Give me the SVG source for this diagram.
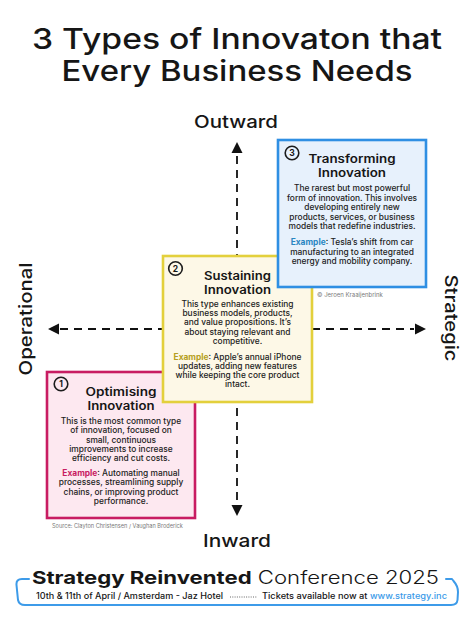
<svg xmlns="http://www.w3.org/2000/svg" width="474" height="620" viewBox="0 0 474 620">
  <style>
    text { font-family: Inter, "Noto Sans", "DejaVu Sans", sans-serif; fill: #161616; }
    .title { font-size: 28.5px; font-weight: 500; text-anchor: middle; }
    .axis-label { font-size: 17.5px; font-weight: 500; text-anchor: middle; }
    .box-title { font-size: 11.2px; font-weight: 600; text-anchor: middle; }
    .body { font-size: 8.4px; font-weight: 500; text-anchor: middle; fill: #222; }
    .num { font-size: 8.5px; font-weight: 700; text-anchor: middle; }
    .num-ring { stroke: #1c1c1c; stroke-width: 1.6; }
    .axis { stroke: #111; stroke-width: 1.8; stroke-dasharray: 8 6; fill: none; }
    .arrow { fill: #111; }
    .credit { font-size: 6px; fill: #7a7a7a; }
  </style>

  <!-- Heading -->
  <text class="title" x="237" y="49" textLength="410" lengthAdjust="spacingAndGlyphs">3 Types of Innovaton that</text>
  <text class="title" x="237" y="80.5" textLength="351" lengthAdjust="spacingAndGlyphs">Every Business Needs</text>

  <!-- Axis labels -->
  <text class="axis-label" x="236" y="128" textLength="84" lengthAdjust="spacingAndGlyphs">Outward</text>
  <text class="axis-label" x="237" y="547" textLength="68" lengthAdjust="spacingAndGlyphs">Inward</text>
  <text class="axis-label" transform="translate(32 319) rotate(-90)" textLength="113" lengthAdjust="spacingAndGlyphs">Operational</text>
  <text class="axis-label" transform="translate(445 318) rotate(90)" textLength="87" lengthAdjust="spacingAndGlyphs">Strategic</text>

  <!-- Axes -->
  <g id="connectors">
    <line class="axis" x1="237" y1="156" x2="237" y2="504"/>
    <line class="axis" x1="60" y1="329" x2="414" y2="329"/>
    <polygon class="arrow" points="237,142 231.5,153 242.5,153"/>
    <polygon class="arrow" points="237,516 231.5,505 242.5,505"/>
    <polygon class="arrow" points="48,329 59,323.5 59,334.5"/>
    <polygon class="arrow" points="426,329 415,323.5 415,334.5"/>
  </g>

  <!-- Quadrant 1: Optimising (bottom layer) -->
  <g id="optimising">
    <rect x="47" y="372" width="148" height="146" fill="#fde8f0" stroke="#c81c62" stroke-width="2.6"/>
    <circle class="num-ring" cx="61" cy="384" r="6.8" fill="#fde8f0"/>
    <text class="num" x="61" y="387">1</text>
    <text class="box-title" x="121" y="396" textLength="71" lengthAdjust="spacingAndGlyphs">Optimising</text>
    <text class="box-title" x="121" y="409.5" textLength="67" lengthAdjust="spacingAndGlyphs">Innovation</text>
    <text class="body" x="121" y="424">This is the most common type</text>
    <text class="body" x="121" y="433">of innovation, focused on</text>
    <text class="body" x="121" y="442.5">small, continuous</text>
    <text class="body" x="121" y="452">improvements to increase</text>
    <text class="body" x="121" y="461">efficiency and cut costs.</text>
    <text class="body" x="121" y="476"><tspan fill="#c81c62" font-weight="700">Example</tspan>: Automating manual</text>
    <text class="body" x="121" y="485">processes, streamlining supply</text>
    <text class="body" x="121" y="494.5">chains, or improving product</text>
    <text class="body" x="121" y="504">performance.</text>
  </g>
  <text class="credit" x="52" y="528" style="font-size:5.6px">Source: Clayton Christensen / Vaughan Broderick</text>

  <!-- Quadrant 2: Sustaining -->
  <g id="sustaining">
    <rect x="163" y="256" width="149" height="146" fill="#fdf8e7" stroke="#e3d03c" stroke-width="2.6"/>
    <circle class="num-ring" cx="175.5" cy="268.5" r="6.8" fill="#fdf8e7"/>
    <text class="num" x="175.5" y="271.5">2</text>
    <text class="box-title" x="237.5" y="280" textLength="67" lengthAdjust="spacingAndGlyphs">Sustaining</text>
    <text class="box-title" x="237.5" y="293.5" textLength="67" lengthAdjust="spacingAndGlyphs">Innovation</text>
    <text class="body" x="237.5" y="307">This type enhances existing</text>
    <text class="body" x="237.5" y="316">business models, products,</text>
    <text class="body" x="237.5" y="325">and value propositions. It’s</text>
    <text class="body" x="237.5" y="334.5">about staying relevant and</text>
    <text class="body" x="237.5" y="344">competitive.</text>
    <text class="body" x="237.5" y="360"><tspan fill="#b59f22" font-weight="700">Example</tspan>: Apple’s annual iPhone</text>
    <text class="body" x="237.5" y="369">updates, adding new features</text>
    <text class="body" x="237.5" y="378">while keeping the core product</text>
    <text class="body" x="237.5" y="387">intact.</text>
  </g>

  <!-- Quadrant 3: Transforming (top layer) -->
  <g id="transforming">
    <rect x="278" y="140" width="148" height="147" fill="#e7f1fc" stroke="#2f8fe3" stroke-width="2.6"/>
    <circle class="num-ring" cx="292" cy="153" r="6.8" fill="#eaf3fd"/>
    <text class="num" x="292" y="156">3</text>
    <text class="box-title" x="352" y="163" textLength="87" lengthAdjust="spacingAndGlyphs">Transforming</text>
    <text class="box-title" x="352" y="176.5" textLength="68" lengthAdjust="spacingAndGlyphs">Innovation</text>
    <text class="body" x="352" y="191">The rarest but most powerful</text>
    <text class="body" x="352" y="200.5">form of innovation. This involves</text>
    <text class="body" x="352" y="210">developing entirely new</text>
    <text class="body" x="352" y="219.5">products, services, or business</text>
    <text class="body" x="352" y="229">models that redefine industries.</text>
    <text class="body" x="352" y="245"><tspan fill="#2a86c2" font-weight="700">Example</tspan>: Tesla’s shift from car</text>
    <text class="body" x="352" y="254.5">manufacturing to an integrated</text>
    <text class="body" x="352" y="264">energy and mobility company.</text>
  </g>
  <text class="credit" x="317" y="297">© Jeroen Kraaijenbrink</text>

  <!-- Footer banner -->
  <path d="M 29 579 L 22 579 Q 16 579 16.5 585 L 18 600 Q 19 605 25 605 L 451 605 Q 457 605 457.5 600 L 458 592 Q 458 586 453.5 581 L 452 579 L 446 579" fill="none" stroke="#3d9be9" stroke-width="2" stroke-linejoin="round" stroke-linecap="round"/>
  <text x="32" y="584" style="font-size:18px" textLength="407" lengthAdjust="spacingAndGlyphs"><tspan font-weight="700">Strategy Reinvented</tspan><tspan font-weight="300"> Conference 2025</tspan></text>
  <text x="36" y="599" style="font-size:8.6px;font-weight:500" textLength="187" lengthAdjust="spacingAndGlyphs">10th &amp; 11th of April / Amsterdam - Jaz Hotel</text>
  <line x1="230" y1="597" x2="257" y2="597" stroke="#555" stroke-width="0.9" stroke-dasharray="1 1.3"/>
  <text x="262" y="599" style="font-size:8.6px;font-weight:500" textLength="185" lengthAdjust="spacingAndGlyphs">Tickets available now at <tspan fill="#3d9be9">www.strategy.inc</tspan></text>
</svg>
